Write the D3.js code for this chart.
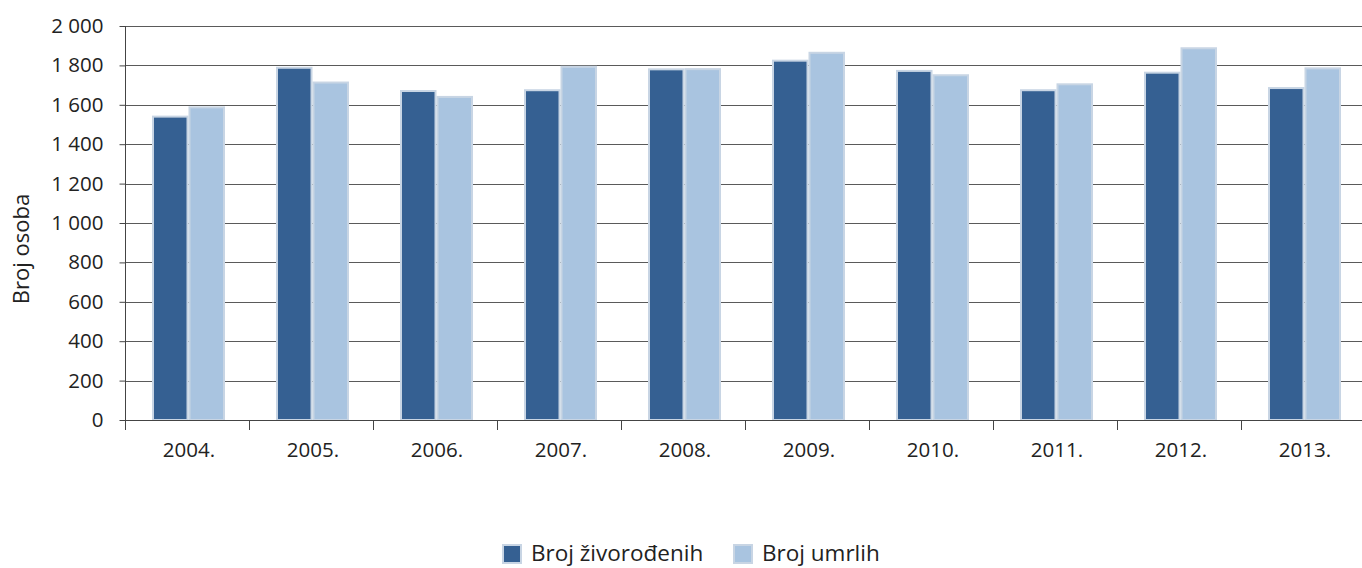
<!DOCTYPE html>
<html>
<head>
<meta charset="utf-8">
<script src="https://cdn.jsdelivr.net/npm/d3@7"></script>
<style>
  html, body { margin: 0; padding: 0; background: #fff; }
  svg { display: block; }
  text { font-family: "Open Sans", "Noto Sans", sans-serif; fill: #222; }
</style>
</head>
<body>
<svg id="chart" width="1362" height="568"></svg>
<script>
const years = ["2004.", "2005.", "2006.", "2007.", "2008.", "2009.", "2010.", "2011.", "2012.", "2013."];
const seriesNames = ["Broj živorođenih", "Broj umrlih"];
const births = [1540, 1788, 1670, 1674, 1780, 1824, 1772, 1674, 1763, 1685];
const deaths = [1587, 1713, 1640, 1793, 1781, 1864, 1750, 1704, 1887, 1785];
const yTicks = [0, 200, 400, 600, 800, 1000, 1200, 1400, 1600, 1800, 2000];
const colors = ["#356092", "#a9c4e0"];
const yTitle = "Broj osoba";

(function () {
const svg = d3.select("#chart");
const mL = 125, mR = 1365, mT = 26, mB = 420;

const x0 = d3.scaleBand().domain(years).range([mL, mR]).paddingInner(0).paddingOuter(0);
const pairW = 73;
const x1 = d3.scaleBand().domain(seriesNames).range([0, pairW]);
const y = d3.scaleLinear().domain([0, 2000]).range([mB, mT]);

const locale = d3.formatLocale({decimal: ",", thousands: " ", grouping: [3], currency: ["", ""]});
const fmt = locale.format(",");

// gridlines
svg.append("g")
  .selectAll("line")
  .data(yTicks.filter(d => d > 0))
  .join("line")
  .attr("x1", mL).attr("x2", 1362)
  .attr("y1", d => Math.round(y(d)) + 0.5).attr("y2", d => Math.round(y(d)) + 0.5)
  .attr("stroke", "#5a5a5a").attr("stroke-width", 1);

// bars
const data = years.map((yr, i) => ({year: yr, vals: [births[i], deaths[i]]}));
const groups = svg.append("g").selectAll("g")
  .data(data).join("g")
  .attr("transform", d => `translate(${x0(d.year) + (x0.bandwidth() - pairW) / 2 + 1.5},0)`);
groups.selectAll("rect")
  .data(d => d.vals.map((v, j) => ({name: seriesNames[j], v, j})))
  .join("rect")
  .attr("x", d => x1(d.name) + 1)
  .attr("width", x1.bandwidth() - 2)
  .attr("y", d => y(d.v))
  .attr("height", d => y(0) - y(d.v))
  .attr("fill", d => colors[d.j])
  .attr("stroke", "#c8d5e4")
  .attr("stroke-width", 2);

// y axis
const yAxis = d3.axisLeft(y).tickValues(yTicks).tickFormat(fmt).tickSize(6).tickPadding(16);
const gy = svg.append("g").attr("transform", `translate(${mL + 0.5},0)`).call(yAxis);
gy.select(".domain").attr("d", `M0,${mT}V${mB + 10}`).attr("stroke", "#444");
gy.selectAll(".tick line").attr("stroke", "#444");
gy.selectAll(".tick text").style("font-size", "20.5px").attr("fill", "#222")
  .style("font-family", "'Open Sans', sans-serif");

// x axis
const xAxis = d3.axisBottom(x0).tickSize(0).tickPadding(0);
const gx = svg.append("g").attr("transform", `translate(0,${mB + 0.5})`).call(xAxis);
gx.select(".domain").attr("d", `M${mL},0H1362`).attr("stroke", "#444");
gx.selectAll(".tick text").attr("y", 36).attr("dy", 0).attr("dx", 2)
  .style("font-size", "20.5px").attr("fill", "#222")
  .style("font-family", "'Open Sans', sans-serif");
// category boundary ticks
svg.append("g").selectAll("line")
  .data(years)
  .join("line")
  .attr("x1", d => Math.round(x0(d)) + 0.5).attr("x2", d => Math.round(x0(d)) + 0.5)
  .attr("y1", mB).attr("y2", mB + 10)
  .attr("stroke", "#444");

// y title
svg.append("text")
  .attr("transform", "translate(29,249) rotate(-90)")
  .attr("text-anchor", "middle")
  .style("font-size", "22px")
  .text(yTitle);

// legend
const legendItems = [{name: seriesNames[0], c: colors[0], x: 502}, {name: seriesNames[1], c: colors[1], x: 733}];
const lg = svg.append("g").selectAll("g").data(legendItems).join("g")
  .attr("transform", d => `translate(${d.x},0)`);
lg.append("rect").attr("x", 1).attr("y", 545).attr("width", 18).attr("height", 18)
  .attr("fill", d => d.c).attr("stroke", "#c8d5e4").attr("stroke-width", 2);
lg.append("text").attr("x", 29).attr("y", 561).style("font-size", "22.5px").text(d => d.name);
})();
</script>
</body>
</html>
